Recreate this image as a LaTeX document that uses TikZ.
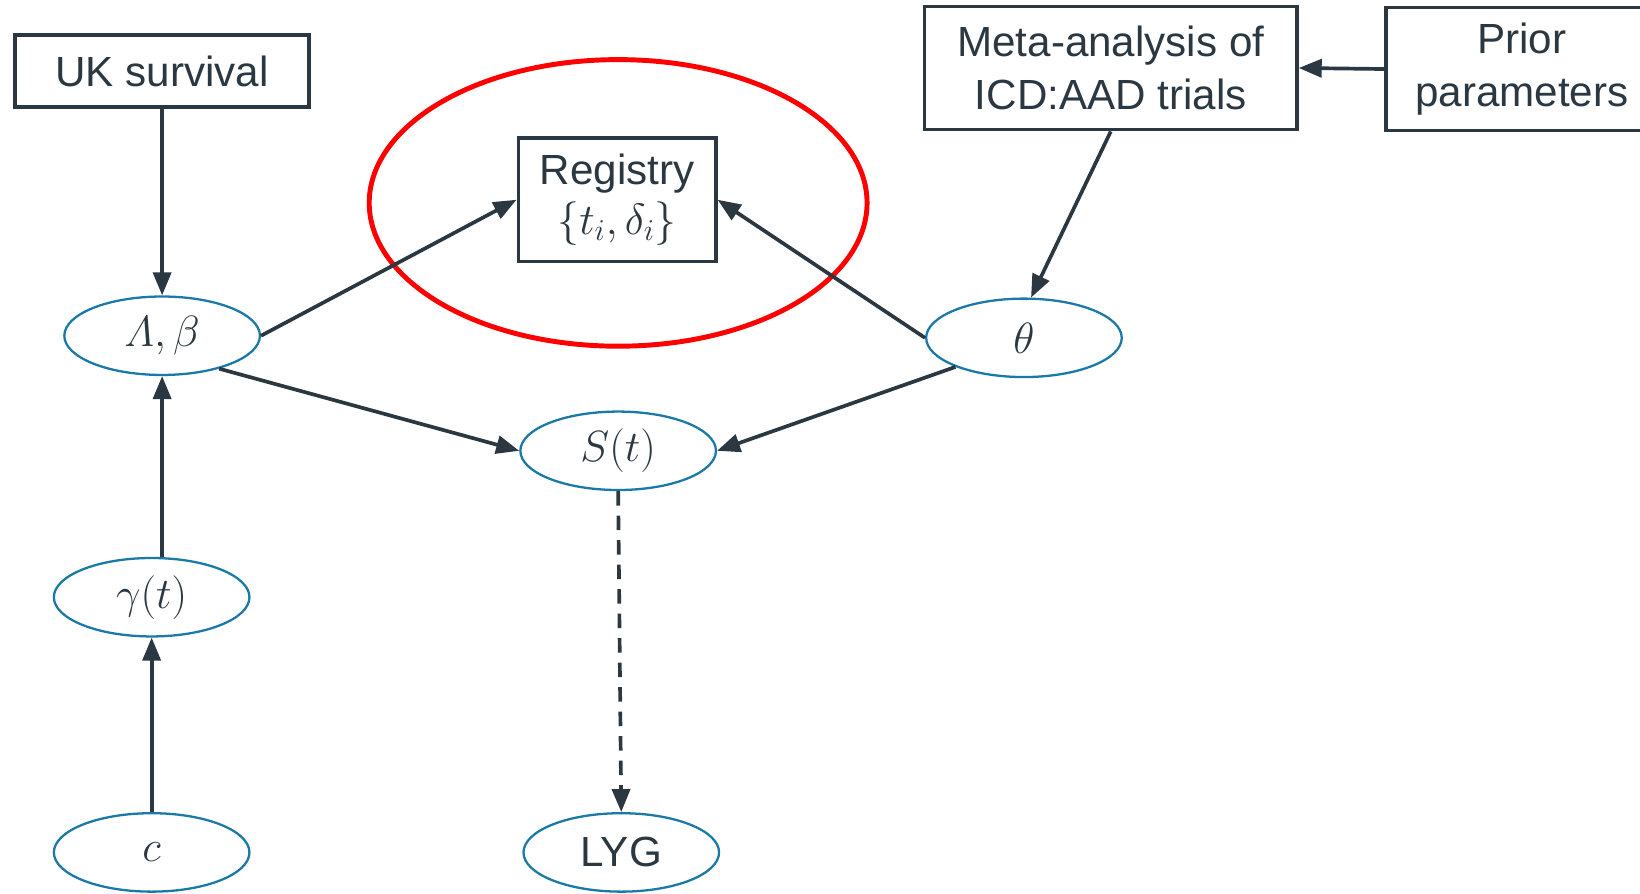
\documentclass[tikz,border=0pt]{standalone}
\usepackage{fontspec}
\setmainfont{Liberation Sans}
\usetikzlibrary{shapes.geometric,arrows.meta}
\definecolor{ink}{HTML}{2B3841}
\definecolor{nodeblue}{HTML}{1B79A8}
\definecolor{ringred}{HTML}{FF0000}
\newcommand{\upx}{0.02092cm}
\begin{document}
\begin{tikzpicture}[x=\upx, y=-\upx,
  every node/.style={text=ink, font=\fontsize{24}{30}\selectfont},
  databox/.style={draw=ink, line width=2pt, rectangle, align=center, inner sep=0pt},
  param/.style={draw=nodeblue, line width=1.3pt, ellipse, inner sep=0pt,
                minimum width=187*\upx, minimum height=75*\upx},
  ring/.style={draw=ringred, line width=2.8pt, ellipse, inner sep=0pt},
  link/.style={draw=ink, line width=2.1pt, -{Triangle[length=0.46cm, width=0.36cm]}},
  guess/.style={link, dash pattern=on 0.29cm off 0.2cm}
]
\useasboundingbox (0,0) rectangle (1568,854);
\clip (0,0) rectangle (1568,854);

% highlighted registry data
\node[ring, minimum width=476*\upx, minimum height=274*\upx] (ring) at (591,194) {};

% data sources
\node[databox, minimum width=281*\upx, minimum height=69*\upx] (uk) at (155,68) {UK survival};
\node[databox, minimum width=189*\upx, minimum height=118*\upx] (reg) at (590,191)
  {Registry\\[-2pt] $\{t_i,\delta_i\}$};
\node[databox, minimum width=356*\upx, minimum height=118*\upx] (meta) at (1062,65)
  {Meta-analysis of\\ ICD:AAD trials};
\node[databox, minimum width=260*\upx, minimum height=118*\upx] (prior) at (1455,66)
  {Prior\\ parameters};

% model parameters and outputs
\node[param] (lb) at (155,321) {$\mathnormal{\Lambda},\beta$};
\node[param] (theta) at (979,323) {$\theta$};
\node[param] (st) at (591,431) {$S(t)$};
\node[param] (gam) at (145,571) {$\gamma(t)$};
\node[param] (c) at (145,815) {$c$};
\node[param] (lyg) at (594,815) {LYG};

% connectors
\draw[link] (uk.south) -- (lb.north);
\draw[link] (lb.east) -- (reg.west);
\draw[link] (lb.-30) -- (st.west);
\draw[link] (theta.west) -- (reg.east);
\draw[link] (theta.-157) -- (st.east);
\draw[link] (meta.south) -- (theta.80);
\draw[link] (prior.west) -- (meta.east);
\draw[link] (lb.south |- gam.north) -- (lb.south);
\draw[link] (c.north) -- (gam.south);
\draw[guess] (st.south) -- (lyg.north);
\end{tikzpicture}
\end{document}
